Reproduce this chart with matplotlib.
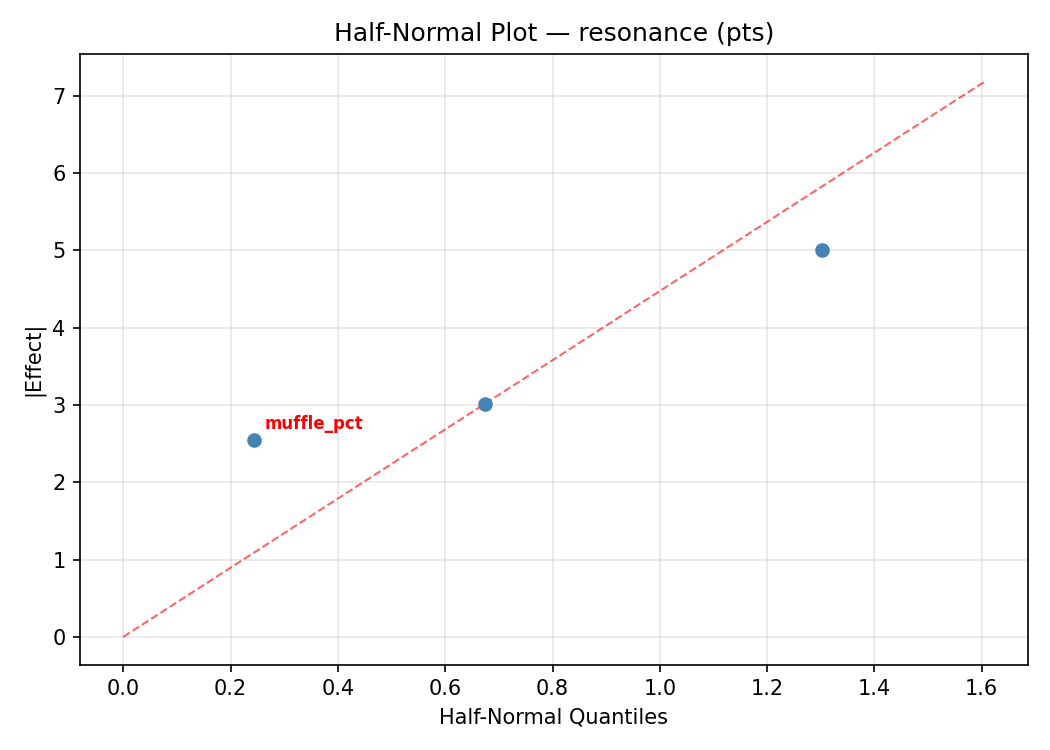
import numpy as np
import matplotlib
matplotlib.use("Agg")
import matplotlib.pyplot as plt

# ==============================
# DATA
# ==============================
factors = ["muffle_pct", "f2", "f3"]
quantiles = [0.243, 0.674, 1.303]
abs_effects = [2.55, 3.01, 5.00]
labelled = ["muffle_pct"]

ref_x = [0.0, 1.605]
ref_y = [0.0, 7.18]

# ==============================
# PLOT
# ==============================
fig, ax = plt.subplots(figsize=(7, 5), dpi=150)

ax.scatter(quantiles, abs_effects, color="steelblue", s=36, zorder=3)
ax.plot(ref_x, ref_y, color="red", linestyle="--", linewidth=1, alpha=0.6)

for name, x, y in zip(factors, quantiles, abs_effects):
    if name in labelled:
        ax.annotate(name, (x, y), xytext=(5, 5), textcoords="offset points",
                    color="red", fontsize=8, fontweight="bold")

ax.set_title("Half-Normal Plot \u2014 resonance (pts)")
ax.set_xlabel("Half-Normal Quantiles")
ax.set_ylabel("|Effect|")
ax.grid(True, alpha=0.3)

fig.tight_layout()
fig.savefig("out.png")
